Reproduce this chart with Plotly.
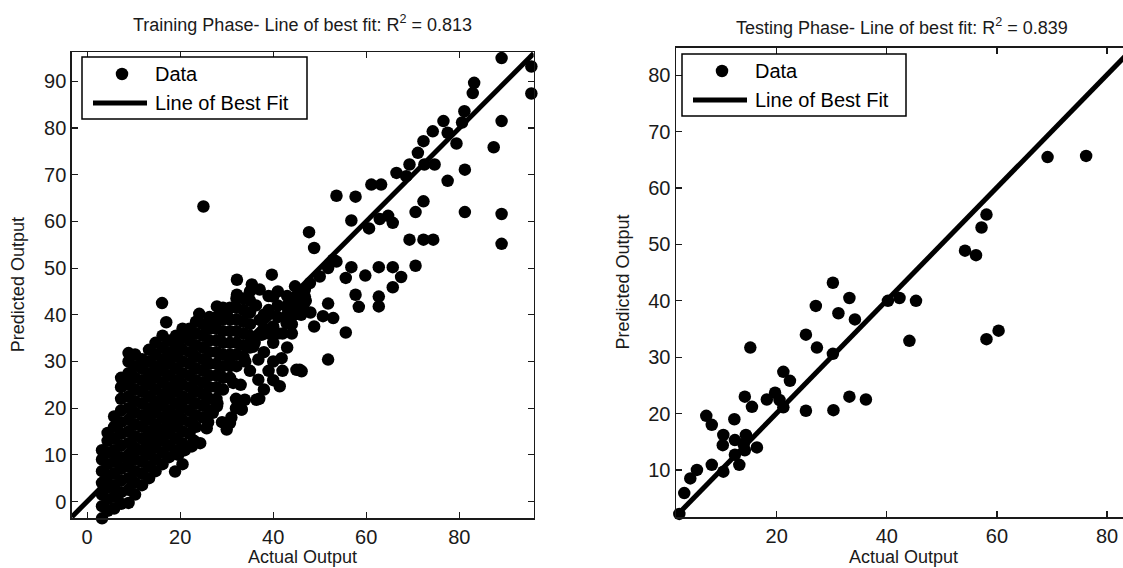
import plotly.graph_objects as go

# ---------------- Training phase data ----------------
train_actual = [
    # sparse upper / right region
    89.1, 95.5, 95.5, 89.1, 87.4, 89.1, 89.1, 81.2, 81.2, 77.5, 79.4, 83.2, 82.9, 81.1, 80.6,
    76.6, 77.5, 74.3, 72.3, 71.1, 72.5, 74.7, 69.3, 66.5, 68.6, 72.3, 70.6, 69.3, 72.3, 74.4,
    70.6, 61.1, 63.2, 53.6, 57.7, 56.8, 60.6, 62.9, 64.7, 65.7, 47.7, 48.8, 53.6, 51.8, 56.8,
    55.6, 59.8, 62.7, 65.7, 67.5, 65.7, 57.7, 58.4, 62.7, 62.7, 51.8, 50.7, 52.9, 48.8, 55.6,
    51.8, 46.1, 47.9, 50.0, 52.9, 46.8,
    # middle region
    25.0, 32.2, 39.7, 35.4, 16.1, 17.0, 24.1, 27.9, 32.2, 37.1, 40.0, 44.7, 46.8, 30.0, 34.3,
    42.9, 41.0, 36.3, 27.1, 22.1, 25.6,
    38.0, 39.0, 41.0, 43.0, 45.0, 46.0, 44.0, 40.0, 42.0, 38.0, 45.0, 47.0, 43.0, 39.0, 41.0,
    44.0, 46.5, 48.0,
    # right cluster
    30.7, 31.4, 33.9, 33.2, 36.8, 36.4, 36.8, 35.7, 37.5, 40.0, 41.8, 41.4, 45.0, 45.7, 42.9,
    44.3, 37.1, 38.0, 39.0, 40.0, 38.0, 35.0, 33.0, 34.0, 39.0, 41.0, 43.0, 44.0, 42.0, 40.0,
    37.0, 32.0, 36.0,
    # lower branch
    18.9, 19.6, 22.5, 24.3, 25.7, 27.9, 30.0, 30.7, 33.2, 20.5, 21.0, 23.0, 26.0, 27.0, 29.0,
    31.0, 32.0, 28.0,
    # dense main band
    3.2, 3.2, 3.2, 3.2, 3.2, 3.2, 3.2,
    4.4, 4.4, 4.4, 4.4, 4.4, 4.4, 4.4, 4.4,
    5.8, 5.8, 5.8, 5.8, 5.8, 5.8, 5.8, 5.8, 5.8,
    7.3, 7.3, 7.3, 7.3, 7.3, 7.3, 7.3, 7.3, 7.3, 7.3, 7.3, 7.3,
    8.9, 8.9, 8.9, 8.9, 8.9, 8.9, 8.9, 8.9, 8.9, 8.9, 8.9, 8.9, 8.9, 8.9,
    10.3, 10.3, 10.3, 10.3, 10.3, 10.3, 10.3, 10.3, 10.3, 10.3, 10.3, 10.3, 10.3,
    11.8, 11.8, 11.8, 11.8, 11.8, 11.8, 11.8, 11.8, 11.8, 11.8, 11.8, 11.8,
    13.3, 13.3, 13.3, 13.3, 13.3, 13.3, 13.3, 13.3, 13.3, 13.3, 13.3, 13.3,
    14.7, 14.7, 14.7, 14.7, 14.7, 14.7, 14.7, 14.7, 14.7, 14.7, 14.7, 14.7,
    16.2, 16.2, 16.2, 16.2, 16.2, 16.2, 16.2, 16.2, 16.2, 16.2, 16.2, 16.2,
    17.6, 17.6, 17.6, 17.6, 17.6, 17.6, 17.6, 17.6, 17.6, 17.6, 17.6,
    19.1, 19.1, 19.1, 19.1, 19.1, 19.1, 19.1, 19.1, 19.1, 19.1, 19.1,
    20.5, 20.5, 20.5, 20.5, 20.5, 20.5, 20.5, 20.5, 20.5, 20.5, 20.5,
    22.0, 22.0, 22.0, 22.0, 22.0, 22.0, 22.0, 22.0, 22.0, 22.0,
    23.4, 23.4, 23.4, 23.4, 23.4, 23.4, 23.4, 23.4, 23.4, 23.4,
    24.9, 24.9, 24.9, 24.9, 24.9, 24.9, 24.9, 24.9, 24.9,
    26.3, 26.3, 26.3, 26.3, 26.3, 26.3, 26.3, 26.3, 26.3,
    27.8, 27.8, 27.8, 27.8, 27.8, 27.8, 27.8, 27.8,
    29.2, 29.2, 29.2, 29.2, 29.2, 29.2, 29.2, 29.2,
    30.7, 30.7, 30.7, 30.7, 30.7, 30.7, 30.7,
    32.1, 32.1, 32.1, 32.1, 32.1, 32.1, 32.1,
    33.6, 33.6, 33.6, 33.6, 33.6, 33.6,
    35.0, 35.0, 35.0, 35.0, 35.0, 35.0,
]
train_predicted = [
    95.0, 93.2, 87.4, 81.5, 75.9, 61.6, 55.2, 62.0, 71.1, 68.7, 76.7, 89.7, 87.5, 83.6, 81.2,
    81.5, 79.0, 79.3, 77.2, 74.7, 72.2, 72.2, 72.2, 70.4, 69.7, 64.3, 62.0, 56.1, 56.1, 56.1,
    50.5, 67.9, 67.9, 65.5, 65.3, 60.2, 58.5, 60.5, 61.2, 59.7, 57.7, 54.3, 51.4, 50.0, 50.2,
    47.9, 48.4, 50.2, 50.2, 48.1, 45.9, 44.3, 41.7, 43.9, 41.8, 42.4, 39.7, 39.3, 37.5, 36.2,
    30.4, 27.9, 46.8, 48.2, 51.8, 43.9,
    63.2, 47.5, 48.6, 46.5, 42.5, 38.4, 40.2, 41.8, 44.3, 45.4, 43.9, 46.1, 45.4, 40.4, 40.4,
    41.8, 39.5, 42.0, 38.2, 36.8, 37.5,
    40.0, 44.0, 42.0, 44.0, 42.0, 40.0, 38.0, 37.5, 36.0, 37.0, 44.0, 43.0, 40.0, 41.0, 45.0,
    42.5, 41.5, 40.5,
    29.7, 25.4, 21.8, 19.7, 30.4, 21.8, 26.1, 33.2, 35.7, 34.0, 30.7, 24.7, 28.2, 28.2, 38.2,
    40.0, 38.9, 32.0, 28.0, 30.0, 24.0, 28.0, 25.0, 30.0, 36.0, 36.0, 33.0, 36.0, 28.0, 26.0,
    22.0, 22.0, 34.0,
    6.4, 10.0, 11.8, 12.5, 15.7, 20.4, 15.4, 16.8, 19.7, 8.0, 11.0, 13.0, 17.0, 19.0, 17.0,
    18.0, 20.0, 21.0,
    -3.6, -1.0, 1.5, 4.0, 6.5, 9.0, 11.0,
    -2.0, 0.5, 3.0, 5.5, 8.0, 10.5, 13.0, 14.7,
    -1.5, 1.0, 3.5, 6.0, 8.5, 11.0, 13.5, 16.0, 18.2,
    -0.5, 2.0, 4.5, 7.0, 9.5, 12.0, 14.5, 17.0, 19.5, 22.0, 24.5, 26.5,
    -0.3, 2.5, 5.0, 7.5, 10.0, 12.5, 15.0, 17.5, 20.0, 22.5, 25.0, 27.5, 30.0, 31.8,
    1.5, 4.0, 6.5, 9.0, 11.5, 14.0, 16.5, 19.0, 21.5, 24.0, 26.5, 29.0, 31.5,
    3.5, 6.0, 8.5, 11.0, 13.5, 16.0, 18.5, 21.0, 23.5, 26.0, 28.5, 30.5,
    5.0, 7.5, 10.0, 12.5, 15.0, 17.5, 20.0, 22.5, 25.0, 27.5, 30.0, 32.5,
    6.5, 9.0, 11.5, 14.0, 16.5, 19.0, 21.5, 24.0, 26.5, 29.0, 31.5, 34.0,
    8.0, 10.5, 13.0, 15.5, 18.0, 20.5, 23.0, 25.5, 28.0, 30.5, 33.0, 35.5,
    9.5, 12.0, 14.5, 17.0, 19.5, 22.0, 24.5, 27.0, 29.5, 32.0, 34.5,
    11.0, 13.5, 16.0, 18.5, 21.0, 23.5, 26.0, 28.5, 31.0, 33.5, 35.5,
    12.5, 15.0, 17.5, 20.0, 22.5, 25.0, 27.5, 30.0, 32.5, 35.0, 37.0,
    14.5, 17.0, 19.5, 22.0, 24.5, 27.0, 29.5, 32.0, 34.5, 37.0,
    16.0, 18.5, 21.0, 23.5, 26.0, 28.5, 31.0, 33.5, 36.0, 38.5,
    18.0, 20.5, 23.0, 25.5, 28.0, 30.5, 33.0, 35.5, 38.0,
    19.5, 22.0, 24.5, 27.0, 29.5, 32.0, 34.5, 37.0, 39.5,
    22.0, 24.5, 27.0, 29.5, 32.0, 34.5, 37.0, 39.5,
    24.0, 26.5, 29.0, 31.5, 34.0, 36.5, 39.0, 41.5,
    26.5, 29.0, 31.5, 34.0, 36.5, 39.0, 41.5,
    29.0, 31.5, 34.0, 36.5, 39.0, 41.5, 43.5,
    31.0, 33.5, 36.0, 38.5, 41.0, 43.5,
    33.0, 35.5, 38.0, 40.5, 43.0, 45.0,
]

# ---------------- Testing phase data ----------------
test_actual = [
    2.3, 3.2, 3.2, 4.3, 5.5, 8.2, 10.3, 10.2, 10.3, 7.2, 8.2, 12.3, 12.4, 13.2, 12.4,
    14.2, 14.4, 14.0, 16.4, 14.2, 15.5, 18.2, 19.7, 20.5, 21.2, 21.2, 22.4, 25.3, 30.3, 33.2,
    36.2, 15.2, 30.2, 33.2, 31.2, 34.2, 27.1, 25.3, 27.3, 30.2, 69.2, 76.2, 58.1, 57.2, 54.2,
    56.2, 40.2, 42.3, 45.3, 44.1, 58.1, 60.3,
]
test_predicted = [
    2.2, 1.4, 5.9, 8.5, 10.0, 10.9, 9.7, 14.4, 16.2, 19.6, 18.0, 19.0, 15.3, 10.9, 12.7,
    13.5, 16.2, 14.5, 14.0, 23.0, 21.2, 22.5, 23.7, 22.4, 21.1, 27.4, 25.8, 20.5, 20.6, 23.0,
    22.5, 31.7, 43.2, 40.5, 37.8, 36.7, 39.1, 34.0, 31.7, 30.6, 65.5, 65.7, 55.3, 53.0, 48.9,
    48.1, 40.0, 40.5, 40.0, 32.9, 33.2, 34.7,
]

# line of best fit: slope, intercept, and x extent
train_fit = [1.0, 0.0]
train_fit_x = [-3.3, 96.0]
test_fit = [1.0, 0.1]
test_fit_x = [1.7, 84.0]

train_title = "Training Phase- Line of best fit: R<sup>2</sup> = 0.813"
test_title = "Testing Phase- Line of best fit: R<sup>2</sup> = 0.839"
legend_labels = ["Data", "Line of Best Fit"]

FONT = "Liberation Sans, Arial, Helvetica, sans-serif"
INK = "#1a1a1a"
W, H = 1123, 568
MS = 12.5

fig = go.Figure()
fig.add_trace(go.Scatter(
    x=train_actual, y=train_predicted, mode="markers", name=legend_labels[0],
    marker=dict(color="black", size=MS, symbol="circle"),
    xaxis="x", yaxis="y", cliponaxis=False,
))
fig.add_trace(go.Scatter(
    x=train_fit_x, y=[train_fit[0] * v + train_fit[1] for v in train_fit_x],
    mode="lines", name=legend_labels[1], line=dict(color="black", width=5),
    xaxis="x", yaxis="y",
))
fig.add_trace(go.Scatter(
    x=test_actual, y=test_predicted, mode="markers", name=legend_labels[0],
    marker=dict(color="black", size=MS, symbol="circle"),
    xaxis="x2", yaxis="y2", cliponaxis=False,
))
fig.add_trace(go.Scatter(
    x=test_fit_x, y=[test_fit[0] * v + test_fit[1] for v in test_fit_x],
    mode="lines", name=legend_labels[1], line=dict(color="black", width=5),
    xaxis="x2", yaxis="y2",
))

L1, R1, T1, B1 = 71.8, 533.7, 52.0, 518.3
L2, R2, T2, B2 = 676.0, 1123.0, 47.7, 517.3

axis_common = dict(
    showgrid=False, zeroline=False, showline=True, linecolor=INK, linewidth=1.5,
    ticks="inside", ticklen=6, tickcolor=INK, tickwidth=1.2,
    tickfont=dict(family=FONT, size=20, color=INK),
    ticklabeloverflow="allow",
)

fig.update_layout(
    width=W, height=H,
    margin=dict(l=0, r=0, t=0, b=0),
    paper_bgcolor="white", plot_bgcolor="white",
    showlegend=False,
    xaxis=dict(domain=[L1 / W, R1 / W], range=[-3.3, 96.0], tickvals=[0, 20, 40, 60, 80],
               mirror="ticks", anchor="y", **axis_common),
    yaxis=dict(domain=[1 - B1 / H, 1 - T1 / H], range=[-3.6, 96.3],
               tickvals=[0, 10, 20, 30, 40, 50, 60, 70, 80, 90],
               mirror="ticks", anchor="x", **axis_common),
    xaxis2=dict(domain=[L2 / W, R2 / W], range=[1.7, 82.9], tickvals=[20, 40, 60, 80],
                mirror="ticks", anchor="y2", **axis_common),
    yaxis2=dict(domain=[1 - B2 / H, 1 - T2 / H], range=[1.6, 84.9],
                tickvals=[10, 20, 30, 40, 50, 60, 70, 80],
                mirror=False, anchor="x2", **axis_common),
)


def px_x(v):
    return v / W


def px_y(v):
    return 1 - v / H


# legend boxes drawn in page pixels: (box left, top, right, bottom, row1 y, row2 y)
legend_boxes = [(82, 57, 307, 119, 74, 103), (682, 54, 906, 116, 71, 100)]
for (bx0, by0, bx1, by1, r1, r2) in legend_boxes:
    fig.add_shape(type="rect", xref="paper", yref="paper",
                  x0=px_x(bx0), x1=px_x(bx1), y0=px_y(by1), y1=px_y(by0),
                  line=dict(color="black", width=1.5), fillcolor="white", layer="above")
    mx = bx0 + 40
    fig.add_shape(type="circle", xref="paper", yref="paper",
                  x0=px_x(mx - MS / 2), x1=px_x(mx + MS / 2),
                  y0=px_y(r1 + MS / 2), y1=px_y(r1 - MS / 2),
                  line=dict(color="black", width=0), fillcolor="black", layer="above")
    fig.add_shape(type="line", xref="paper", yref="paper",
                  x0=px_x(bx0 + 11), x1=px_x(bx0 + 65), y0=px_y(r2), y1=px_y(r2),
                  line=dict(color="black", width=5), layer="above")
    for label, ry in zip(legend_labels, (r1, r2)):
        fig.add_annotation(text=label, xref="paper", yref="paper",
                           x=px_x(bx0 + 71), y=px_y(ry), xanchor="left", yanchor="middle",
                           showarrow=False, font=dict(family=FONT, size=20, color="black"))

annots = [
    dict(text=train_title, x=(L1 + R1) / 2, y=24, size=18, angle=0),
    dict(text=test_title, x=902, y=26, size=18, angle=0),
    dict(text="Actual Output", x=(L1 + R1) / 2, y=557, size=18, angle=0),
    dict(text="Actual Output", x=903, y=557, size=18, angle=0),
    dict(text="Predicted Output", x=18, y=(T1 + B1) / 2, size=18, angle=-90),
    dict(text="Predicted Output", x=622, y=(T2 + B2) / 2, size=18, angle=-90),
]
for a in annots:
    fig.add_annotation(
        text=a["text"], x=px_x(a["x"]), y=px_y(a["y"]), textangle=a["angle"],
        xref="paper", yref="paper", xanchor="center", yanchor="middle", showarrow=False,
        font=dict(family=FONT, color=INK, size=a["size"]),
    )

fig.write_html(
    "out.html",
    config={"displayModeBar": False, "staticPlot": True},
    post_script="document.body.style.margin='0';document.body.style.padding='0';",
)
